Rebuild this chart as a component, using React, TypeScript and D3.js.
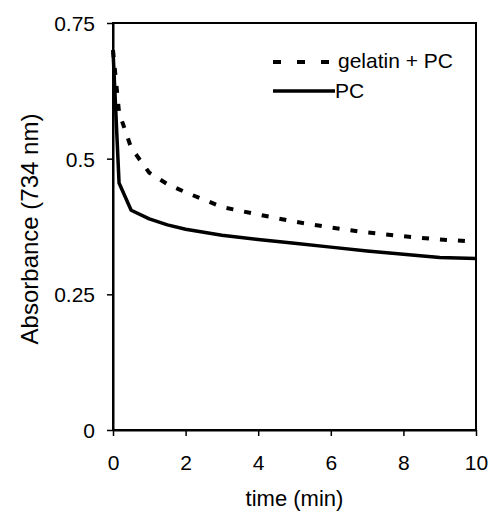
import React, { useEffect, useRef } from 'react'
import * as d3 from 'd3'

const times = [0, 0.167, 0.5, 1, 1.5, 2, 3, 4, 5, 6, 7, 8, 9, 10]
const gelatinPC = [0.70, 0.585, 0.52, 0.474, 0.453, 0.438, 0.411, 0.397, 0.384, 0.373, 0.364, 0.357, 0.351, 0.347]
const pcOnly = [0.70, 0.455, 0.405, 0.389, 0.378, 0.370, 0.359, 0.351, 0.344, 0.337, 0.330, 0.324, 0.318, 0.316]
const xTicks = [0, 2, 4, 6, 8, 10]
const yTicks = [0, 0.25, 0.5, 0.75]
const yTickLabels = ['0', '0.25', '0.5', '0.75']

export default function App(){
  const svgRef = useRef<SVGSVGElement>(null)

  useEffect(()=>{
    const width=491, height=512, m={top:23,right:15,bottom:82,left:113}
    const svg=d3.select(svgRef.current).attr('width',width).attr('height',height)
    svg.selectAll('*').remove()
    const font='"Liberation Sans", Arial, sans-serif'
    const x=d3.scaleLinear().domain([0,10]).range([m.left,width-m.right])
    const y=d3.scaleLinear().domain([0,0.75]).range([height-m.bottom,m.top])

    // frame
    svg.append('rect').attr('x',x(0)).attr('y',y(0.75)).attr('width',x(10)-x(0)).attr('height',y(0)-y(0.75))
      .attr('fill','none').attr('stroke','#000').attr('stroke-width',2)

    const xa=svg.append('g').attr('transform',`translate(0,${y(0)})`)
      .call(d3.axisBottom(x).tickValues(xTicks).tickSize(6).tickSizeOuter(0).tickFormat(d3.format('d')))
    xa.select('.domain').attr('stroke-width',2)
    xa.selectAll('line').attr('stroke-width',1.5)
    xa.selectAll('text').attr('y',40).attr('dy',0).style('font-family',font).style('font-size','21px').attr('fill','#000')

    const ya=svg.append('g').attr('transform',`translate(${x(0)},0)`)
      .call(d3.axisLeft(y).tickValues(yTicks).tickSize(6).tickSizeOuter(0).tickPadding(12).tickFormat((d,i)=>yTickLabels[i]))
    ya.select('.domain').attr('stroke-width',2)
    ya.selectAll('line').attr('stroke-width',1.5)
    ya.selectAll('text').attr('dy','0.36em').style('font-family',font).style('font-size','21px').attr('fill','#000')

    svg.append('text').attr('x',(x(0)+x(10))/2).attr('y',506).attr('text-anchor','middle')
      .style('font-family',font).style('font-size','22px').text('time (min)')
    svg.append('text').attr('transform',`translate(38,229) rotate(-90)`).attr('text-anchor','middle')
      .style('font-family',font).style('font-size','24px').text('Absorbance (734 nm)')

    const line=d3.line<number>().x((d,i)=>x(times[i])).y(d=>y(d))
    svg.append('path').datum(gelatinPC).attr('fill','none').attr('stroke','#000').attr('stroke-width',4)
      .attr('stroke-dasharray','7,11').attr('d',line)
    svg.append('path').datum(pcOnly).attr('fill','none').attr('stroke','#000').attr('stroke-width',3.5)
      .attr('stroke-linejoin','round').attr('d',line)

    // legend
    const lg=svg.append('g')
    lg.append('line').attr('x1',273).attr('x2',333).attr('y1',62).attr('y2',62).attr('stroke','#000')
      .attr('stroke-width',4).attr('stroke-dasharray','8,16')
    lg.append('text').attr('x',338).attr('y',68).style('font-family',font).style('font-size','21px').text('gelatin + PC')
    lg.append('line').attr('x1',273).attr('x2',335).attr('y1',91).attr('y2',91).attr('stroke','#000').attr('stroke-width',3.5)
    lg.append('text').attr('x',335).attr('y',98).style('font-family',font).style('font-size','21px').text('PC')
  },[])

  return (<div style={{position:'absolute',left:0,top:0,background:'#fff'}}>
    <svg ref={svgRef}></svg>
  </div>)
}
